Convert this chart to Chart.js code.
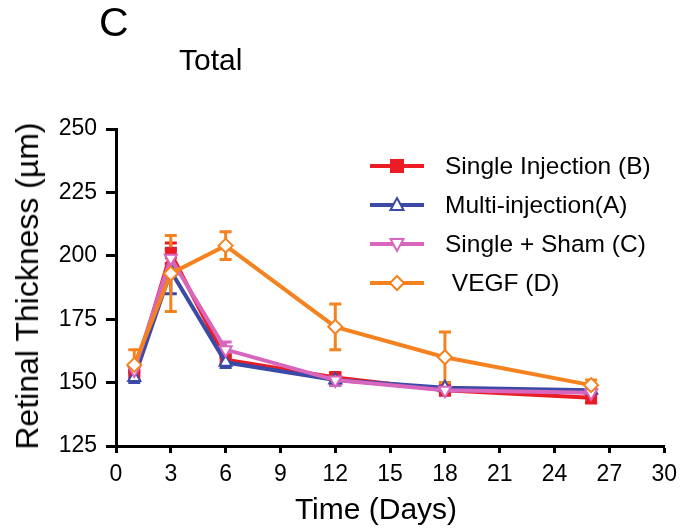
<!DOCTYPE html>
<html>
<head>
<meta charset="utf-8">
<script src="https://cdn.jsdelivr.net/npm/chart.js@4.4.1/dist/chart.umd.min.js"></script>
<style>
    body { margin: 0; background: #fff; }
    #wrap { position: relative; width: 685px; height: 529px; font-family: "Liberation Sans", Arial, sans-serif; color: #000; }
    #chart { position: absolute; left: 0; top: 0; }
    .txt { position: absolute; line-height: 1; white-space: nowrap; }
    #panel { left: 99px; top: 2px; font-size: 41px; }
    #sub { left: 179px; top: 45px; font-size: 30px; }
    #xTitle { left: 376px; top: 494px; font-size: 30px; transform: translateX(-50%); }
    #yTitle { left: 27px; top: 286px; font-size: 32px; transform: translate(-50%, -50%) rotate(-90deg); }
</style>
</head>
<body>
<div id="wrap">
    <canvas id="chart" width="685" height="529"></canvas>
    <div class="txt" id="panel">C</div>
    <div class="txt" id="sub">Total</div>
    <div class="txt" id="xTitle">Time (Days)</div>
    <div class="txt" id="yTitle">Retinal Thickness (µm)</div>
</div>
<script>
// data
const days = [1, 3, 6, 12, 18, 26];
const singleInjection = [153, 201, 159, 152, 147, 144];
const multiInjection = [152, 194, 158, 151, 148, 147];
const singleSham = [155, 199, 163, 151, 147, 146];
const vegf = [157, 193, 204, 172, 160, 149];
// +/- error
const singleInjectionErr = [2, 4, 2, 2, 2, 2];
const multiInjectionErr = [2, 9, 2, 2, 2, 2];
const singleShamErr = [2, 3, 3, 2, 2, 2];
const vegfErr = [6, 15, 5.5, 9, 10, 2];
const seriesLabels = ['Single Injection (B)', 'Multi-injection(A)', 'Single + Sham (C)', ' VEGF (D)'];
const xTicks = [0, 3, 6, 9, 12, 15, 18, 21, 24, 27, 30];
const yTicks = [125, 150, 175, 200, 225, 250];

const colors = ['#ec1c24', '#3b4aa6', '#d766bc', '#f5821f'];
const FONT = '"Liberation Sans", Arial, sans-serif';

function points(values){
    return days.map((d, i) => ({x: d, y: values[i]}));
}

function makeSet(idx, values, errs, style, rotation, filled){
    return {
        label: seriesLabels[idx],
        data: points(values),
        errors: errs,
        borderColor: colors[idx],
        backgroundColor: filled ? colors[idx] : '#fff',
        borderWidth: 4,
        pointStyle: style,
        pointRotation: rotation,
        pointRadius: 7,
        pointBorderWidth: 2,
        pointBorderColor: colors[idx],
        pointBackgroundColor: filled ? colors[idx] : '#fff',
        tension: 0,
        order: 3 - idx
    };
}

// draws a marker for the legend
function drawMarker(ctx, style, rotation, x, y, color, filled){
    ctx.save();
    ctx.translate(x, y);
    ctx.rotate(rotation * Math.PI / 180);
    ctx.beginPath();
    if(style === 'rect'){
        ctx.rect(-6, -6, 12, 12);
    }else if(style === 'triangle'){
        ctx.moveTo(0, -7);
        ctx.lineTo(6.5, 5);
        ctx.lineTo(-6.5, 5);
        ctx.closePath();
    }else{
        ctx.moveTo(0, -7);
        ctx.lineTo(7, 0);
        ctx.lineTo(0, 7);
        ctx.lineTo(-7, 0);
        ctx.closePath();
    }
    ctx.fillStyle = filled ? color : '#fff';
    ctx.fill();
    ctx.lineWidth = 2;
    ctx.strokeStyle = color;
    ctx.stroke();
    ctx.restore();
}

const errorBars = {
    id: 'errorBars',
    beforeDatasetsDraw(chart){
        const ctx = chart.ctx;
        const yScale = chart.scales.y;
        chart.data.datasets.forEach((ds, di) => {
            const meta = chart.getDatasetMeta(di);
            ctx.save();
            ctx.strokeStyle = ds.borderColor;
            ctx.lineWidth = 3;
            meta.data.forEach((pt, i) => {
                const v = ds.data[i].y;
                const e = ds.errors[i];
                const top = yScale.getPixelForValue(v + e);
                const bot = yScale.getPixelForValue(v - e);
                ctx.beginPath();
                ctx.moveTo(pt.x, top);
                ctx.lineTo(pt.x, bot);
                ctx.moveTo(pt.x - 6, top);
                ctx.lineTo(pt.x + 6, top);
                ctx.moveTo(pt.x - 6, bot);
                ctx.lineTo(pt.x + 6, bot);
                ctx.stroke();
            });
            ctx.restore();
        });
    }
};

const insideLegend = {
    id: 'insideLegend',
    afterDraw(chart){
        const ctx = chart.ctx;
        const rows = [166, 205, 244, 283];
        chart.data.datasets.forEach((ds, i) => {
            const y = rows[i];
            ctx.save();
            ctx.strokeStyle = ds.borderColor;
            ctx.lineWidth = 4;
            ctx.beginPath();
            ctx.moveTo(370, y);
            ctx.lineTo(424, y);
            ctx.stroke();
            ctx.restore();
            drawMarker(ctx, ds.pointStyle, ds.pointRotation, 397, y, ds.borderColor, ds.pointBackgroundColor !== '#fff');
            ctx.save();
            ctx.fillStyle = '#000';
            ctx.font = '24.5px ' + FONT;
            ctx.textBaseline = 'middle';
            ctx.textAlign = 'left';
            ctx.fillText(ds.label, 445, y + 1);
            ctx.restore();
        });
    }
};

const axisStyle = {
    grid: { display: true, drawOnChartArea: false, drawTicks: true, tickWidth: 3, tickColor: '#000' },
    border: { display: true, width: 3, color: '#000' }
};

new Chart(document.getElementById('chart'), {
    type: 'line',
    data: {
        datasets: [
            makeSet(0, singleInjection, singleInjectionErr, 'rect', 0, true),
            makeSet(1, multiInjection, multiInjectionErr, 'triangle', 0, false),
            makeSet(2, singleSham, singleShamErr, 'triangle', 180, false),
            makeSet(3, vegf, vegfErr, 'rectRot', 0, false)
        ]
    },
    options: {
        responsive: false,
        animation: false,
        layout: { padding: { left: 0, top: 129, right: 19, bottom: 0 } },
        plugins: { legend: { display: false }, tooltip: { enabled: false } },
        scales: {
            x: {
                type: 'linear',
                min: 0,
                max: 30,
                afterBuildTicks: s => { s.ticks = xTicks.map(v => ({value: v})); },
                afterFit: s => { s.height = 83; },
                grid: Object.assign({}, axisStyle.grid, { tickLength: 7 }),
                border: axisStyle.border,
                ticks: { color: '#000', font: { family: FONT, size: 23 }, padding: 8, maxRotation: 0, autoSkip: false }
            },
            y: {
                type: 'linear',
                min: 125,
                max: 250,
                afterBuildTicks: s => { s.ticks = yTicks.map(v => ({value: v})); },
                afterFit: s => { s.width = 116; },
                grid: Object.assign({}, axisStyle.grid, { tickLength: 10 }),
                border: axisStyle.border,
                ticks: { color: '#000', font: { family: FONT, size: 23 }, padding: 9 }
            }
        }
    },
    plugins: [errorBars, insideLegend]
});
</script>
</body>
</html>
